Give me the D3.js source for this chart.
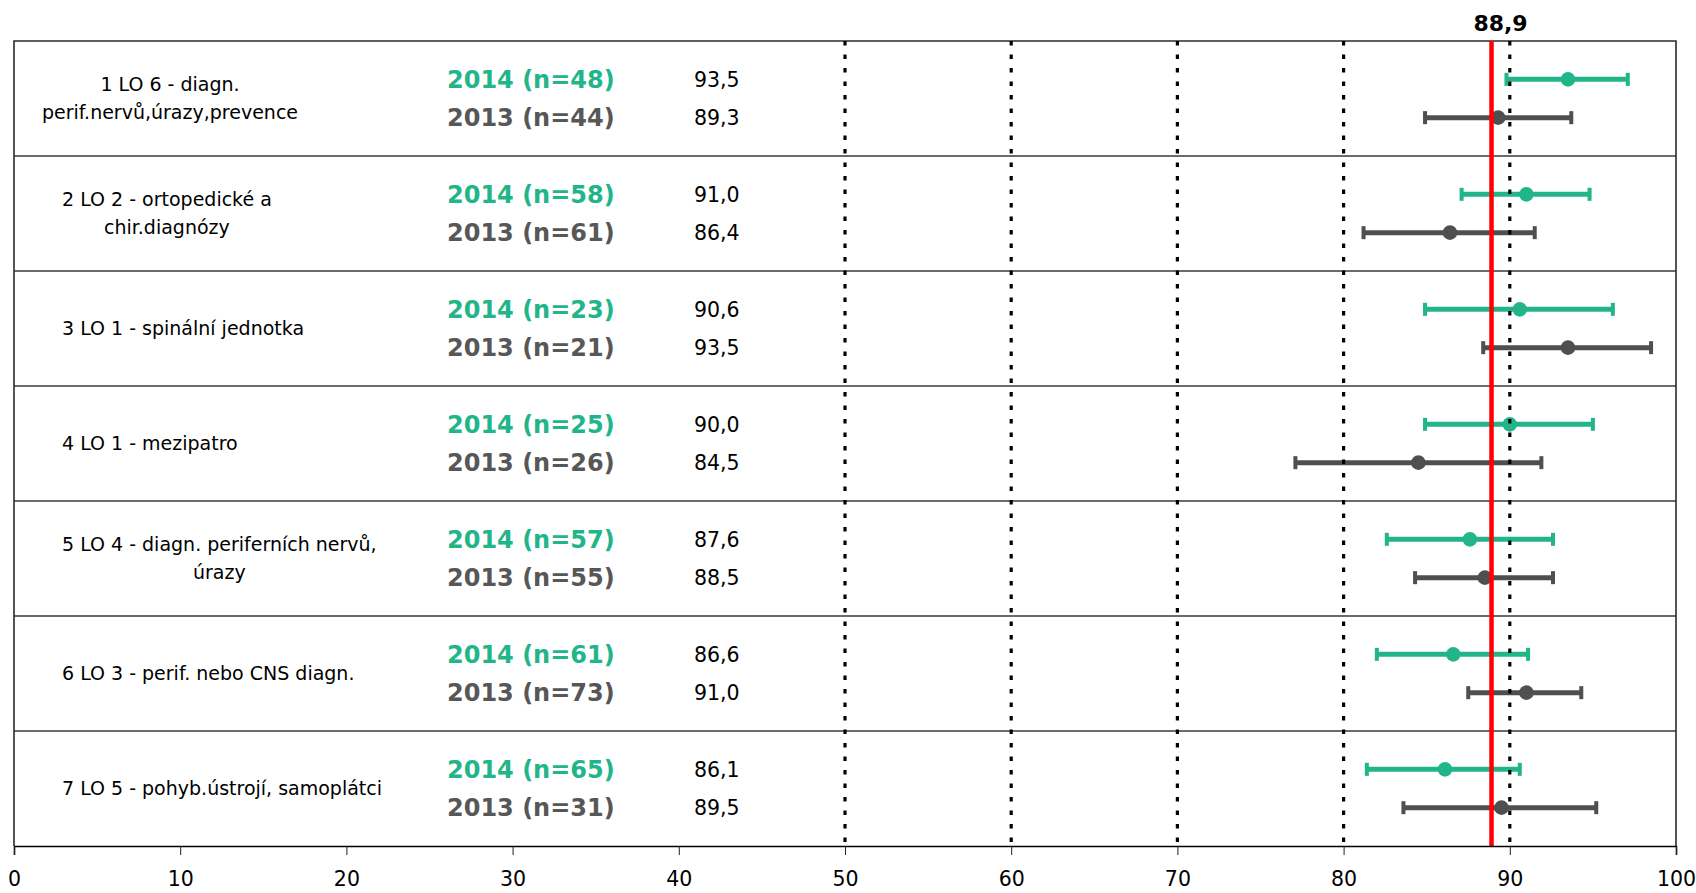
<!DOCTYPE html>
<html>
<head>
<meta charset="utf-8">
<script src="https://cdn.jsdelivr.net/npm/d3@7"></script>
<style>
  body { margin: 0; background: #fff; }
  text { font-family: 'DejaVu Sans', Verdana, sans-serif; }
</style>
</head>
<body>
<svg id="chart"></svg>
<script>
const categories = [
  '1 LO 6 - diagn.\nperif.nervů,úrazy,prevence',
  '2 LO 2 - ortopedické a\nchir.diagnózy',
  '3 LO 1 - spinální jednotka',
  '4 LO 1 - mezipatro',
  '5 LO 4 - diagn. periferních nervů,\núrazy',
  '6 LO 3 - perif. nebo CNS diagn.',
  '7 LO 5 - pohyb.ústrojí, samoplátci'
];
const years = ['2014', '2013'];
const counts2014 = [48, 58, 23, 25, 57, 61, 65];
const counts2013 = [44, 61, 21, 26, 55, 73, 31];
const mean2014 = [93.5, 91.0, 90.6, 90.0, 87.6, 86.6, 86.1];
const mean2013 = [89.3, 86.4, 93.5, 84.5, 88.5, 91.0, 89.5];
const low2014 = [89.8, 87.1, 84.9, 84.9, 82.6, 82.0, 81.4];
const high2014 = [97.1, 94.8, 96.2, 95.0, 92.6, 91.1, 90.6];
const low2013 = [84.9, 81.2, 88.4, 77.1, 84.3, 87.5, 83.6];
const high2013 = [93.7, 91.5, 98.5, 91.9, 92.6, 94.3, 95.2];
const overall = 88.9;
const xTicks = [0, 10, 20, 30, 40, 50, 60, 70, 80, 90, 100];
const gridTicks = [50, 60, 70, 80, 90];

const svgWidth = 1696;
const svgHeight = 893;
const plot = { left: 14, right: 1676, top: 41, bottom: 846 };

const green = '#22b58a';
const grey = '#4f4f4f';

const fmt = d3.formatLocale({ decimal: ',', thousands: ' ', grouping: [3], currency: ['', ''] }).format('.1f');

const svg = d3.select('#chart')
  .attr('width', svgWidth)
  .attr('height', svgHeight);

const xScale = d3.scaleLinear()
  .domain([0, 100])
  .range([plot.left, plot.right]);

const rowScale = d3.scaleBand()
  .domain(d3.range(categories.length))
  .range([plot.top, plot.bottom]);

const yearScale = d3.scalePoint()
  .domain(years)
  .range([0, rowScale.bandwidth()])
  .padding(1);

const rows = categories.map((c, i) => ({
  i,
  label: c.split('\n'),
  series: [
    { year: '2014', n: counts2014[i], mean: mean2014[i], lo: low2014[i], hi: high2014[i], color: green, textColor: green },
    { year: '2013', n: counts2013[i], mean: mean2013[i], lo: low2013[i], hi: high2013[i], color: grey, textColor: '#575757' }
  ]
}));
const points = rows.flatMap(r => r.series.map(s => ({ ...s, row: r.i })));
const yOf = d => rowScale(d.row) + yearScale(d.year);

// row separators
svg.append('g')
  .selectAll('line')
  .data(d3.range(1, categories.length))
  .enter().append('line')
  .attr('x1', plot.left).attr('x2', plot.right)
  .attr('y1', d => rowScale(d)).attr('y2', d => rowScale(d))
  .attr('stroke', '#3a3a3a')
  .attr('stroke-width', 1.3);

// frame
svg.append('path')
  .attr('d', `M${plot.left},${plot.bottom}V${plot.top}H${plot.right}V${plot.bottom}`)
  .attr('fill', 'none')
  .attr('stroke', '#2b2b2b')
  .attr('stroke-width', 1.6);

// category labels
const labels = svg.append('g')
  .selectAll('text')
  .data(rows)
  .enter().append('text')
  .attr('font-size', 19)
  .attr('fill', '#000');

labels.each(function (r) {
  const t = d3.select(this);
  const cy = rowScale(r.i) + rowScale.bandwidth() / 2;
  const lineH = 28;
  r.label.forEach((line, k) => {
    t.append('tspan')
      .attr('y', cy + (k - (r.label.length - 1) / 2) * lineH)
      .attr('dy', '0.35em')
      .text(line);
  });
  const widths = [];
  t.selectAll('tspan').each(function () { widths.push(this.getComputedTextLength()); });
  const w = d3.max(widths);
  // long wrapped blocks sit centred on the label column, others start at its left edge
  const cx = r.label.length > 1 && w < 260 ? Math.min(62 + w / 2, 170) : 62 + w / 2;
  t.attr('text-anchor', 'middle');
  t.selectAll('tspan').attr('x', cx);
});

// year / n labels
svg.append('g')
  .selectAll('text')
  .data(points)
  .enter().append('text')
  .attr('x', 447)
  .attr('y', yOf)
  .attr('dy', '0.36em')
  .attr('font-size', 24)
  .attr('font-weight', 'bold')
  .attr('fill', d => d.textColor)
  .text(d => `${d.year} (n=${d.n})`);

// mean values
svg.append('g')
  .selectAll('text')
  .data(points)
  .enter().append('text')
  .attr('x', 694)
  .attr('y', yOf)
  .attr('dy', '0.36em')
  .attr('font-size', 20.5)
  .attr('fill', '#000')
  .text(d => fmt(d.mean));

// error bars
const bars = svg.append('g')
  .selectAll('g')
  .data(points)
  .enter().append('g');

bars.append('line')
  .attr('x1', d => xScale(d.lo)).attr('x2', d => xScale(d.hi))
  .attr('y1', yOf).attr('y2', yOf)
  .attr('stroke', d => d.color)
  .attr('stroke-width', 5);

bars.selectAll('.cap')
  .data(d => [d.lo, d.hi].map(v => ({ v, d })))
  .enter().append('line')
  .attr('class', 'cap')
  .attr('x1', c => xScale(c.v)).attr('x2', c => xScale(c.v))
  .attr('y1', c => yOf(c.d) - 6.5).attr('y2', c => yOf(c.d) + 6.5)
  .attr('stroke', c => c.d.color)
  .attr('stroke-width', 4);

bars.append('circle')
  .attr('cx', d => xScale(d.mean))
  .attr('cy', yOf)
  .attr('r', 7.3)
  .attr('fill', d => d.color);

// dotted gridlines
svg.append('g')
  .selectAll('line')
  .data(gridTicks)
  .enter().append('line')
  .attr('x1', d => xScale(d)).attr('x2', d => xScale(d))
  .attr('y1', plot.top).attr('y2', plot.bottom)
  .attr('stroke', '#000')
  .attr('stroke-width', 3.2)
  .attr('stroke-dasharray', '4.5 9');

// overall mean
svg.append('line')
  .attr('x1', xScale(overall)).attr('x2', xScale(overall))
  .attr('y1', plot.top).attr('y2', plot.bottom)
  .attr('stroke', '#ff0000')
  .attr('stroke-width', 4.5);

svg.append('text')
  .attr('x', xScale(overall) + 9)
  .attr('y', 31)
  .attr('text-anchor', 'middle')
  .attr('font-size', 22)
  .attr('font-weight', 'bold')
  .attr('fill', '#000')
  .text(fmt(overall));

// x axis
const xAxis = d3.axisBottom(xScale)
  .tickValues(xTicks)
  .tickSize(9)
  .tickPadding(16)
  .tickFormat(d3.format('d'));

const axisG = svg.append('g')
  .attr('transform', `translate(0, ${plot.bottom})`)
  .call(xAxis);

axisG.select('.domain')
  .attr('stroke', '#000')
  .attr('stroke-width', 1.6);
axisG.selectAll('.tick line')
  .attr('stroke', '#222');
axisG.selectAll('.tick text')
  .attr('font-family', "'DejaVu Sans', Verdana, sans-serif")
  .attr('font-size', 20.5)
  .attr('fill', '#000');
</script>
</body>
</html>
